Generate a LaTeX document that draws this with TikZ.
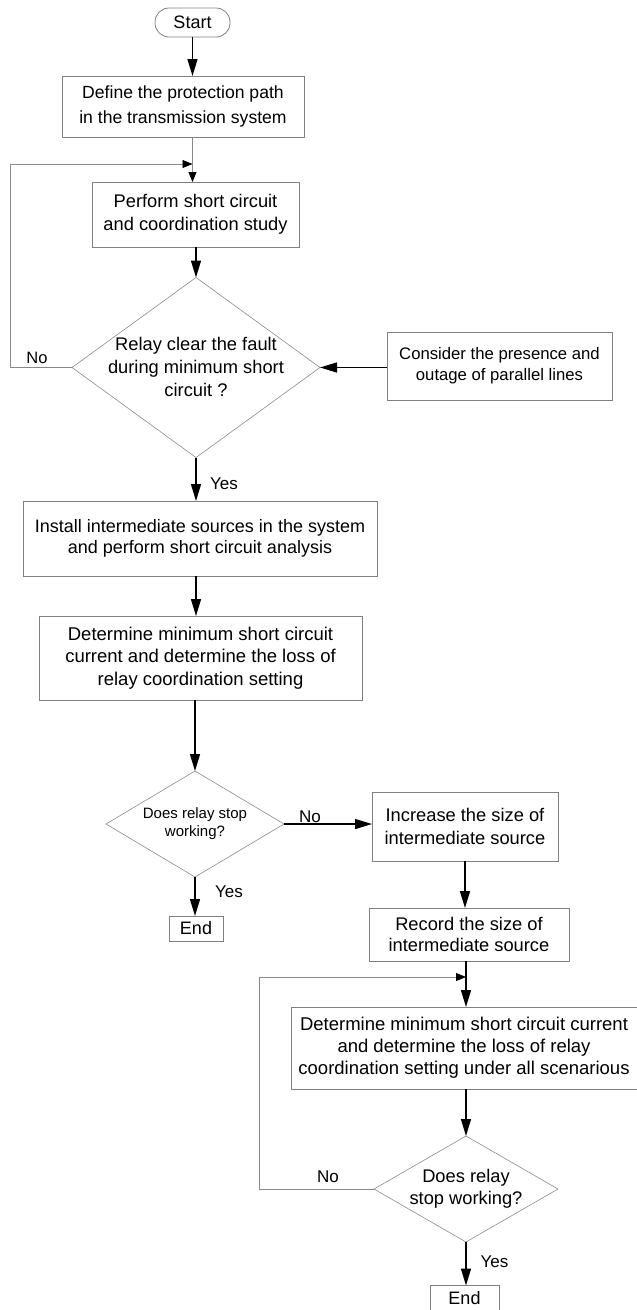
\documentclass[tikz,border=0pt]{standalone}
\usepackage{fontspec}
\setmainfont{Liberation Sans}
\usetikzlibrary{shapes.geometric,arrows.meta}
\definecolor{boxgray}{HTML}{808080}
\definecolor{diagray}{HTML}{8C8C8C}
\definecolor{linegray}{HTML}{8A8A8A}
\begin{document}
\begin{tikzpicture}[x=1pt,y=-1pt,
  base/.style={inner sep=0pt, outer sep=0pt, align=center, text=black, font=\fontsize{18}{22.5}\selectfont},
  box/.style={base, draw=boxgray, line width=0.8pt, rectangle},
  term/.style={box, rounded corners=14pt},
  dia/.style={draw=diagray, line width=0.6pt, diamond, inner sep=0pt, outer sep=0pt},
  txt/.style={base},
  lbl/.style={inner sep=0pt, text=black, font=\fontsize{17}{20}\selectfont},
  arr/.style={draw=black, line width=1.4pt, -{Triangle[length=17pt,width=10pt]}},
  gline/.style={draw=linegray, line width=0.8pt, -{Triangle[length=10pt,width=8pt,color=black]}},
  gline2/.style={draw=linegray, line width=0.8pt}
]
\useasboundingbox (0,0) rectangle (637,1310);
\fill[white] (0,0) rectangle (637,1310);

% nodes
\node[term, minimum width=75, minimum height=29] (start) at (192.5,22.5) {Start};
\node[box, minimum width=242, minimum height=61, font=\fontsize{17.6}{25}\selectfont] (b1) at (183,106.5) {Define the protection path\\in the transmission system};
\node[box, minimum width=207, minimum height=65, font=\fontsize{18.3}{23}\selectfont] (b2) at (195.5,214.5) {Perform short circuit\\and coordination study};
\node[dia, minimum width=248, minimum height=180] (d1) at (196,367.5) {};
\node[txt, font=\fontsize{18.3}{23}\selectfont] (d1t) at (196,367) {Relay clear the fault\\during minimum short\\circuit ?};
\node[box, minimum width=225, minimum height=68, font=\fontsize{16.7}{21}\selectfont] (cons) at (499.5,366) {Consider the presence and\\outage of parallel lines};
\node[box, minimum width=354, minimum height=75, font=\fontsize{18}{21.5}\selectfont] (b3) at (200,538.5) {Install intermediate sources in the system\\and perform short circuit analysis};
\node[box, minimum width=323, minimum height=84, font=\fontsize{18.5}{22.5}\selectfont] (b4) at (200.5,658) {Determine minimum short circuit\\current and determine the loss of\\relay coordination setting};
\node[dia, minimum width=178, minimum height=106] (d2) at (195,824) {};
\node[txt, font=\fontsize{15}{18}\selectfont] (d2t) at (195,824) {Does relay stop\\working?};
\node[box, minimum width=54, minimum height=25] (e1) at (196,928.5) {End};
\node[box, minimum width=186, minimum height=69, font=\fontsize{18.3}{23}\selectfont] (b5) at (465,826.5) {Increase the size of\\intermediate source};
\node[box, minimum width=200, minimum height=53, font=\fontsize{18.3}{21}\selectfont] (b6) at (469,934.5) {Record the size of\\intermediate source};
\node[box, minimum width=346, minimum height=82, font=\fontsize{18.5}{22}\selectfont] (b7) at (464,1048) {Determine minimum short circuit current\\and determine the loss of relay\\coordination setting under all scenarious};
\node[dia, minimum width=184, minimum height=106] (d3) at (466,1189) {};
\node[txt, font=\fontsize{18.3}{22}\selectfont] (d3t) at (466,1189) {Does relay\\stop working?};
\node[box, minimum width=69, minimum height=25] (e2) at (464.5,1298) {End};

% labels
\node[lbl, font=\fontsize{16.5}{20}\selectfont] (l1) at (37,358) {No};
\node[lbl] (l2) at (224,484) {Yes};
\node[lbl] (l3) at (310,817) {No};
\node[lbl] (l4) at (229,892) {Yes};
\node[lbl] (l5) at (328,1177) {No};
\node[lbl] (l6) at (494.5,1262) {Yes};

% helper coordinates
\coordinate (c1) at (10,164);
\coordinate (j1) at (192.5,164);
\coordinate (c2) at (259,977);
\coordinate (j2) at (466,977);

% connectors
\draw[arr] (start.south) -- (start.south |- b1.north);
\draw[gline] (start.south |- b1.south) -- (start.south |- b2.north);
\draw[gline] (d1.west) -| (c1) -- (j1);
\draw[arr] (d1.north |- b2.south) -- (d1.north);
\draw[arr] (d1.east -| cons.west) -- (d1.east);
\draw[arr] (d1.south) -- (d1.south |- b3.north);
\draw[arr] (d1.south |- b3.south) -- (d1.south |- b4.north);
\draw[arr] (d2.north |- b4.south) -- (d2.north);
\draw[arr] (d2.south) -- (d2.south |- e1.north);
\draw[arr] (d2.east) -- (d2.east -| b5.west);
\draw[arr] (b5.south) -- (b5.south |- b6.north);
\draw[arr] (d3.north |- b6.south) -- (d3.north |- b7.north);
\draw[gline] (d3.west) -| (c2) -- (j2);
\draw[arr] (d3.north |- b7.south) -- (d3.north);
\draw[arr] (d3.south) -- (d3.south |- e2.north);
\end{tikzpicture}
\end{document}
